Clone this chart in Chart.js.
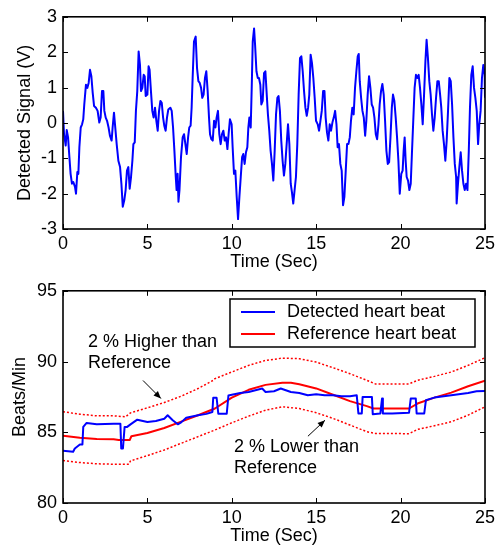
<!DOCTYPE html>
<html>
<head>
<meta charset="utf-8">
<script src="https://cdn.jsdelivr.net/npm/chart.js@4.4.1/dist/chart.umd.min.js"></script>
<style>
  html, body { margin: 0; padding: 0; background: #fff; }
  #wrap { position: relative; width: 502px; height: 548px; }
  canvas { position: absolute; left: 0; }
</style>
</head>
<body>
<div id="wrap">
  <canvas id="ch-top" width="502" height="274" style="top:0"></canvas>
  <canvas id="ch-bot" width="502" height="274" style="top:274px"></canvas>
</div>
<script>
'use strict';
/* ── data ──────────────────────────────────────────────────────────────── */
const sigT = [0,0.06,0.16,0.22,0.3,0.38,0.45,0.53,0.61,0.71,0.77,0.85,0.91,0.97,1.05,1.13,1.2,1.26,1.36,1.44,1.52,1.6,1.68,1.76,1.84,1.95,2.05,2.15,2.23,2.31,2.39,2.45,2.53,2.61,2.7,2.78,2.88,2.94,3.02,3.08,3.18,3.28,3.38,3.46,3.54,3.63,3.71,3.79,3.87,3.95,4.03,4.11,4.17,4.25,4.32,4.4,4.48,4.56,4.62,4.7,4.78,4.84,4.9,5.0,5.07,
  5.13,5.21,5.29,5.37,5.45,5.53,5.61,5.69,5.77,5.85,5.93,6.0,6.08,6.16,6.24,6.36,6.44,6.52,6.6,6.68,6.73,6.79,6.84,6.9,6.99,7.09,7.17,7.25,7.33,7.41,7.48,7.56,7.62,7.68,7.76,7.86,7.94,8.02,8.1,8.18,8.25,8.33,8.41,8.49,8.57,8.65,8.71,8.79,8.87,8.95,9.03,9.1,9.18,9.26,9.34,9.42,9.5,9.58,9.66,9.74,9.81,9.89,9.99,
  10.05,10.13,10.21,10.29,10.37,10.45,10.53,10.61,10.68,10.76,10.84,10.92,10.98,11.04,11.12,11.18,11.24,11.32,11.38,11.46,11.54,11.61,11.69,11.75,11.83,11.91,11.99,12.07,12.14,12.22,12.3,12.38,12.46,12.54,12.62,12.7,12.77,12.85,12.93,13.01,13.09,13.17,13.25,13.33,13.41,13.49,13.56,13.64,13.72,13.8,13.88,13.96,14.04,14.12,14.2,14.28,14.36,14.44,14.52,14.59,14.67,14.75,14.83,14.91,14.99,
  15.09,15.17,15.25,15.33,15.41,15.49,15.56,15.64,15.72,15.8,15.88,15.96,16.04,16.12,16.2,16.27,16.35,16.43,16.51,16.59,16.67,16.75,16.83,16.91,16.99,17.06,17.14,17.22,17.3,17.38,17.46,17.52,17.58,17.66,17.74,17.82,17.9,17.97,18.05,18.13,18.21,18.29,18.37,18.45,18.53,18.61,18.69,18.76,18.84,18.92,19.0,19.08,19.16,19.24,19.32,19.4,19.48,19.55,19.63,19.71,19.79,19.87,19.95,
  20.04,20.12,20.18,20.24,20.3,20.36,20.44,20.52,20.6,20.67,20.75,20.83,20.91,20.99,21.07,21.15,21.23,21.31,21.39,21.47,21.54,21.62,21.7,21.78,21.86,21.94,22.02,22.1,22.18,22.26,22.34,22.41,22.49,22.57,22.65,22.73,22.81,22.89,22.97,23.05,23.13,23.21,23.29,23.32,23.4,23.48,23.56,23.64,23.72,23.8,23.88,23.96,24.04,24.11,24.19,24.27,24.35,24.43,24.51,24.59,24.66,24.74,24.82,24.9,24.98,25.0];
const sigV = [0.34,-0.32,-0.64,-0.2,-0.41,-0.97,-1.44,-1.72,-1.67,-1.81,-2.0,-1.39,-1.44,-0.69,-0.13,-0.04,0.1,0.52,1.08,0.99,1.13,1.5,1.32,0.85,0.48,0.43,0.34,0.01,0.15,0.9,0.9,0.34,0.15,0.06,-0.13,-0.36,-0.5,-0.13,0.29,-0.04,-0.6,-1.07,-1.25,-1.72,-2.37,-2.19,-1.9,-1.35,-1.25,-1.86,-1.53,-1.07,-0.6,-0.55,0.34,0.9,2.02,1.64,0.9,0.99,1.36,1.32,0.76,0.8,1.6,
  1.5,0.9,0.34,0.15,0.43,0.06,-0.22,0.34,0.62,0.57,0.15,-0.08,-0.22,0.15,0.38,0.43,0.34,-0.13,-0.79,-1.53,-1.9,-1.44,-2.23,-1.9,-0.97,-0.41,-0.32,-0.6,-0.88,-0.41,-0.13,-0.08,0.43,1.27,2.3,2.44,1.55,1.18,1.13,0.99,0.71,0.8,1.27,1.46,0.9,0.15,-0.32,-0.46,-0.5,0.06,-0.13,0.15,0.34,-0.32,-0.6,-0.32,-0.22,-0.5,-0.41,-0.74,-0.32,0.1,-0.04,
  -0.69,-1.44,-1.35,-2.09,-2.72,-2.09,-1.53,-0.97,-0.88,-1.16,-0.83,-0.69,-0.13,0.15,-0.13,0.99,2.3,2.67,2.2,1.46,1.27,1.27,1.08,0.52,0.62,1.41,1.46,0.8,0.24,-0.22,-0.79,-1.16,-1.63,-0.79,0.24,0.71,0.76,0.34,-0.5,-1.07,-1.49,-1.16,-0.6,-0.04,-0.6,-1.72,-1.95,-2.28,-1.9,-1.53,-0.6,0.8,1.83,1.88,1.46,0.9,0.43,0.2,0.43,0.8,1.93,1.69,1.27,0.71,0.06,
  -0.04,-0.22,0.06,0.34,0.9,0.9,0.15,-0.27,-0.5,-0.04,-0.22,0.01,0.15,0.34,-0.04,-0.69,-0.6,-1.16,-1.35,-2.33,-2.09,-1.35,-0.6,-0.6,-0.41,0.06,0.43,0.24,0.99,1.46,1.88,1.95,1.18,0.71,0.34,0.15,-0.36,0.06,0.8,1.32,0.99,0.52,0.43,0.15,-0.32,-0.46,-0.04,0.52,0.9,1.1,0.8,0.06,-0.79,-1.16,-1.11,-0.41,0.43,0.8,0.62,0.15,-0.41,-1.07,-2.0,
  -1.44,-1.35,-0.79,-0.41,-1.07,-1.53,-1.63,-1.9,-1.72,-0.88,0.06,0.99,1.36,1.27,1.36,0.99,0.52,-0.04,0.8,1.74,2.35,1.83,1.18,0.8,0.24,-0.22,0.15,0.71,1.18,1.18,0.8,0.43,-0.22,-0.6,-1.07,-0.5,0.34,1.27,1.18,0.52,-0.41,-1.16,-1.53,-2.28,-1.72,-1.25,-0.83,-1.35,-1.72,-1.9,-1.72,-1.9,-0.79,0.43,1.36,1.6,0.99,0.71,0.34,-0.6,-0.04,0.34,1.27,1.64,1.36,0.71];

const detT = [0,0.6,0.7,1.0,1.15,1.2,1.4,2,3,3.4,3.45,3.55,3.65,3.8,4.0,4.4,5,5.5,6,6.2,6.5,6.8,7,7.3,8,8.5,8.85,8.9,9.1,9.2,9.7,9.8,10,10.5,11,11.8,12,12.5,12.9,13.5,14,14.5,15,15.5,16,16.5,17,17.4,17.5,17.7,17.75,18.3,18.35,18.8,18.9,18.95,19.5,20.5,20.6,20.9,20.95,21.4,21.5,22,23,24,24.5,25];
const detV = [83.69,83.62,83.85,84.13,84.13,85.38,85.66,85.56,85.6,85.6,83.85,83.85,85.38,85.38,85.56,85.89,85.73,85.8,85.96,86.2,85.85,85.56,85.7,86.03,86.2,86.3,86.43,87.44,87.44,86.31,86.31,87.6,87.65,87.77,87.85,88.09,87.85,87.9,88.09,87.85,87.78,87.62,87.69,87.62,87.62,87.55,87.55,87.62,86.33,86.33,87.5,87.5,86.28,86.33,87.38,86.33,86.33,86.38,87.38,87.38,86.33,86.33,87.27,87.45,87.62,87.78,87.9,87.92];

const refT = [0,1,2,3,3.3,3.95,4.05,5,6,7,8,9,10,11,12,13,13.5,14,15,16,17,18,18.4,20.5,21,22,23,24,25];
const refV = [84.76,84.62,84.52,84.5,84.45,84.45,84.72,84.95,85.3,85.75,86.2,86.68,87.45,88.0,88.35,88.5,88.5,88.4,88.1,87.65,87.2,86.85,86.68,86.68,87.03,87.45,87.8,88.25,88.65];

const upT = [0,1,2,3,3.7,4.0,5,6,7,8,8.9,9,10,11,12,13,14,15,16,17,18,18.5,20.5,21,22,23,24,25];
const upV = [86.45,86.28,86.16,86.16,86.09,86.37,86.73,87.1,87.55,88.09,88.67,88.79,89.26,89.73,90.08,90.24,90.2,89.96,89.56,89.14,88.67,88.42,88.42,88.67,88.95,89.26,89.73,90.27];

const loT = [0,1,2,3,3.9,4.0,5,6,7,8,9,10,11,12,13,14,15,16,17,18,18.5,20.5,21,22,23,24,25];
const loV = [83.0,82.86,82.77,82.74,82.74,82.98,83.35,83.75,84.22,84.69,85.16,85.67,86.14,86.56,86.8,86.68,86.38,85.98,85.51,85.04,84.92,84.9,85.2,85.46,85.74,86.21,86.8];

const legendLabels = ['Detected heart beat', 'Reference heart beat'];
const noteLines = [['2 % Higher than', 'Reference'], ['2 % Lower than', 'Reference']];

/* ── helpers ───────────────────────────────────────────────────────────── */
const FONT = { family: "'Liberation Sans', Arial, Helvetica, sans-serif", size: 18 };
const pts = (xs, ys) => xs.map((x, i) => ({ x, y: ys[i] }));

// MATLAB style box with inward ticks on all four sides
const frameBox = {
  id: 'frameBox',
  afterDatasetsDraw(chart) {
    const { ctx, chartArea: a, scales: { x, y } } = chart;
    const L = 5;
    ctx.save();
    ctx.strokeStyle = '#000';
    ctx.lineWidth = 1;
    ctx.beginPath();
    x.ticks.forEach(t => {
      const px = Math.round(x.getPixelForValue(t.value)) + 0.5;
      ctx.moveTo(px, a.bottom); ctx.lineTo(px, a.bottom - L);
      ctx.moveTo(px, a.top);    ctx.lineTo(px, a.top + L);
    });
    y.ticks.forEach(t => {
      const py = Math.round(y.getPixelForValue(t.value)) + 0.5;
      ctx.moveTo(a.left, py);  ctx.lineTo(a.left + L, py);
      ctx.moveTo(a.right, py); ctx.lineTo(a.right - L, py);
    });
    ctx.stroke();
    ctx.lineWidth = 1.6;
    ctx.strokeRect(a.left, a.top, a.right - a.left, a.bottom - a.top);
    ctx.restore();
  }
};

// boxed legend in the upper right + the two arrow notes
const bpmExtras = {
  id: 'bpmExtras',
  afterDraw(chart) {
    const { ctx, scales: { x, y } } = chart;
    ctx.save();
    ctx.font = `${FONT.size}px ${FONT.family}`;
    ctx.textBaseline = 'middle';
    ctx.fillStyle = '#000';

    // legend
    const bx = 230, by = 25, bw = 245, bh = 48;
    ctx.fillStyle = '#fff';
    ctx.fillRect(bx, by, bw, bh);
    ctx.strokeStyle = '#000'; ctx.lineWidth = 1.5;
    ctx.strokeRect(bx, by, bw, bh);
    chart.data.datasets.filter(d => d.label).forEach((d, i) => {
      const ly = by + 13 + i * 22;
      ctx.strokeStyle = d.borderColor; ctx.lineWidth = 2;
      ctx.beginPath(); ctx.moveTo(bx + 11, ly); ctx.lineTo(bx + 45, ly); ctx.stroke();
      ctx.fillStyle = '#000';
      ctx.fillText(d.label, bx + 57, ly);
    });

    // notes with arrows (positions in data units)
    const notes = [
      { lines: noteLines[0], at: [1.48, 91.41], from: [4.74, 88.66], to: [5.8, 87.39] },
      { lines: noteLines[1], at: [10.13, 83.94], from: [14.51, 84.72], to: [15.52, 85.85] }
    ];
    notes.forEach(n => {
      const tx = x.getPixelForValue(n.at[0]), ty = y.getPixelForValue(n.at[1]);
      ctx.fillStyle = '#000';
      n.lines.forEach((s, i) => ctx.fillText(s, tx, ty + i * 21));
      const x0 = x.getPixelForValue(n.from[0]), y0 = y.getPixelForValue(n.from[1]);
      const x1 = x.getPixelForValue(n.to[0]),   y1 = y.getPixelForValue(n.to[1]);
      const ang = Math.atan2(y1 - y0, x1 - x0), h = 8;
      ctx.strokeStyle = '#000'; ctx.lineWidth = 1;
      ctx.beginPath(); ctx.moveTo(x0, y0); ctx.lineTo(x1, y1); ctx.stroke();
      ctx.beginPath();
      ctx.moveTo(x1, y1);
      ctx.lineTo(x1 - h * Math.cos(ang - 0.4), y1 - h * Math.sin(ang - 0.4));
      ctx.lineTo(x1 - h * Math.cos(ang + 0.4), y1 - h * Math.sin(ang + 0.4));
      ctx.closePath(); ctx.fill();
    });
    ctx.restore();
  }
};

function scalesFor(yMin, yMax, yStep, yTitle, yTitlePad) {
  return {
    x: {
      type: 'linear', min: 0, max: 25,
      ticks: { stepSize: 5, color: '#000', font: FONT, padding: 4, maxRotation: 0 },
      grid: { display: false, drawTicks: false }, border: { display: false },
      title: { display: true, text: 'Time (Sec)', color: '#000', font: FONT, padding: { top: 0, bottom: 1 } },
      afterFit: s => { s.height = 45; }
    },
    y: {
      type: 'linear', min: yMin, max: yMax,
      ticks: { stepSize: yStep, color: '#000', font: FONT, padding: 6 },
      grid: { display: false, drawTicks: false }, border: { display: false },
      title: { display: true, text: yTitle, color: '#000', font: FONT, padding: { top: yTitlePad, bottom: 0 } },
      afterFit: s => { s.width = 63; }
    }
  };
}

const common = {
  responsive: false, animation: false,
  plugins: { legend: { display: false }, tooltip: { enabled: false } },
  elements: { point: { radius: 0 }, line: { tension: 0, borderJoinStyle: 'round' } }
};

new Chart(document.getElementById('ch-top'), {
  type: 'line',
  data: { datasets: [{ data: pts(sigT, sigV), borderColor: '#0000ff', borderWidth: 2 }] },
  options: { ...common, layout: { padding: { top: 15, right: 17, left: 0, bottom: 0 } },
             scales: scalesFor(-3, 3, 1, 'Detected Signal (V)', 14) },
  plugins: [frameBox]
});

new Chart(document.getElementById('ch-bot'), {
  type: 'line',
  data: { datasets: [
    { label: legendLabels[0], data: pts(detT, detV), borderColor: '#0000ff', borderWidth: 2 },
    { label: legendLabels[1], data: pts(refT, refV), borderColor: '#ff0000', borderWidth: 2 },
    { data: pts(upT, upV), borderColor: '#ff0000', borderWidth: 1.5, borderDash: [2, 2] },
    { data: pts(loT, loV), borderColor: '#ff0000', borderWidth: 1.5, borderDash: [2, 2] }
  ] },
  options: { ...common, layout: { padding: { top: 16, right: 17, left: 0, bottom: 0 } },
             scales: scalesFor(80, 95, 5, 'Beats/Min', 9) },
  plugins: [frameBox, bpmExtras]
});
</script>
</body>
</html>
